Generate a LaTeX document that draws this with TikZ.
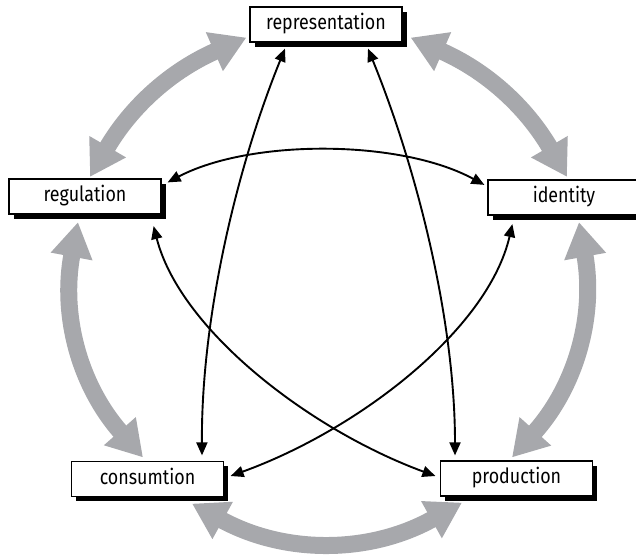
\documentclass[tikz,border=0pt]{standalone}
\usepackage{fontspec}
\setmainfont{Fira Sans}[FakeStretch=0.85]
\usetikzlibrary{arrows.meta,shadows}
\definecolor{greyarr}{RGB}{167,168,172}
\begin{document}
\begin{tikzpicture}[x=1pt,y=-1pt,
  box/.style={draw=black, line width=1.2pt, fill=white, minimum width=152pt,
    minimum height=35pt, inner sep=0pt, text height=14.5pt, text depth=4.5pt,
    font=\fontsize{21}{25}\selectfont,
    drop shadow={shadow xshift=4.5pt, shadow yshift=-4.5pt, fill=black, opacity=1}},
  bigarrow/.style={draw=greyarr, line width=17pt,
    {Triangle[width=40pt,length=35pt]}-{Triangle[width=40pt,length=35pt]}},
  thinarrow/.style={draw=black, line width=1.9pt,
    {Triangle[width=11pt,length=13pt]}-{Triangle[width=11pt,length=13pt]}}
]
\useasboundingbox (0,0) rectangle (636,554);

\node[box] (rep)  at (326,24.5)   {representation};
\node[box] (reg)  at (85,196.5)   {regulation};
\node[box] (id)   at (564,197.5)  {identity};
\node[box] (cons) at (147.5,479)  {consumtion};
\node[box] (prod) at (516.5,478.5){production};

% grey double arrows
\draw[bigarrow] ([xshift=-3pt,yshift=5pt]rep.south west) to[bend right=18] ([xshift=5pt,yshift=1.5pt]reg.north);
\draw[bigarrow] ([xshift=-7pt,yshift=-7.5pt]reg.south) to[bend right=26] ([xshift=-4.5pt,yshift=3.5pt]cons.north);
\draw[bigarrow] ([xshift=44.5pt,yshift=-6.5pt]cons.south) to[bend right=29] ([xshift=-54.5pt,yshift=-6pt]prod.south);
\draw[bigarrow] ([xshift=-4.5pt,yshift=3pt]prod.north) to[bend right=26] ([xshift=15pt,yshift=-6.5pt]id.south);
\draw[bigarrow] ([xshift=3pt,yshift=2.5pt]id.north) to[bend right=18] ([xshift=8pt,yshift=5pt]rep.south east);

% black double arrows
\draw[thinarrow] ([xshift=-41pt,yshift=-6pt]rep.south) .. controls (236,169) and (201,320) .. ([xshift=54.5pt,yshift=5.5pt]cons.north);
\draw[thinarrow] ([xshift=42pt,yshift=-6pt]rep.south) .. controls (417,169) and (455,320) .. ([xshift=-61.5pt,yshift=5pt]prod.north);
\draw[thinarrow] ([xshift=6pt,yshift=-4pt]reg.north east) .. controls (250,139) and (400,139) .. ([xshift=-3pt,yshift=-5.5pt]id.north west);
\draw[thinarrow] ([xshift=-8pt,yshift=-11.5pt]reg.south east) .. controls (180,330) and (310,430) .. ([xshift=-4.5pt,yshift=2.5pt]prod.west);
\draw[thinarrow] ([xshift=25pt,yshift=-8.5pt]id.south west) .. controls (488,330) and (358,430) .. ([xshift=6.5pt,yshift=3pt]cons.east);
\end{tikzpicture}
\end{document}
